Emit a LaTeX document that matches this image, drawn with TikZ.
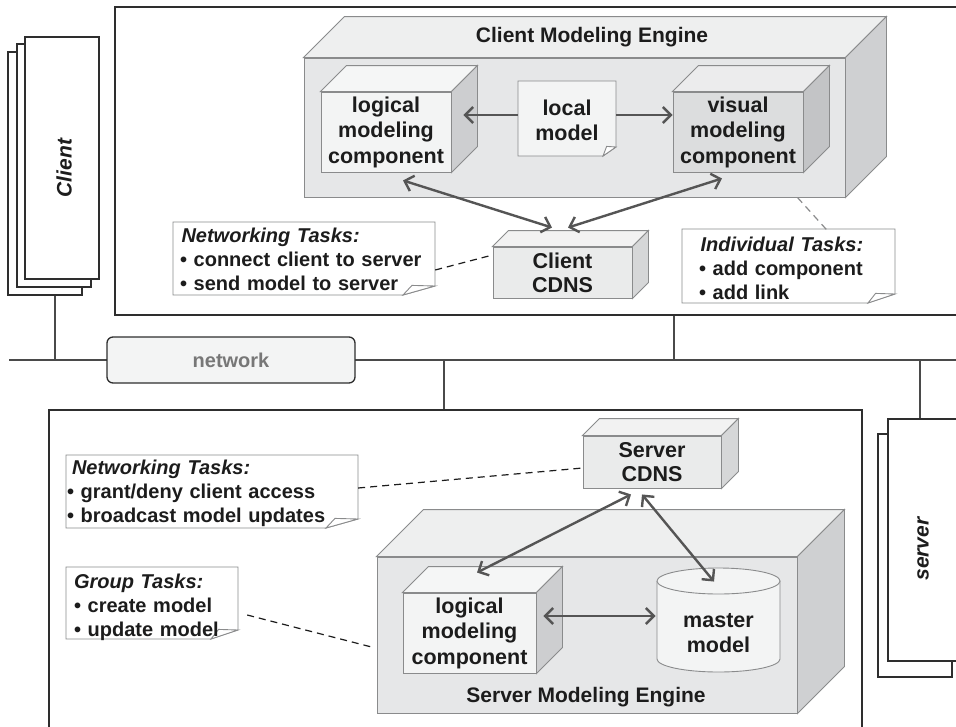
\documentclass[tikz,border=0pt]{standalone}
\usepackage{fontspec}
\setmainfont{Liberation Sans}
\usetikzlibrary{arrows.meta,calc}

\definecolor{edge}{HTML}{8A8B8C}
\definecolor{ink}{HTML}{1C1C1C}
\definecolor{arrowc}{HTML}{555555}
\definecolor{framec}{HTML}{2E2E2E}
\definecolor{wirec}{HTML}{4A4A4A}
\definecolor{engfront}{HTML}{E6E7E8}
\definecolor{engtop}{HTML}{EEEFEF}
\definecolor{engside}{HTML}{CFD0D2}
\definecolor{compfront}{HTML}{F3F4F4}
\definecolor{comptop}{HTML}{F5F6F6}
\definecolor{compside}{HTML}{CDCED0}
\definecolor{visfront}{HTML}{DCDDDE}
\definecolor{vistop}{HTML}{ECECED}
\definecolor{visside}{HTML}{C3C4C6}
\definecolor{cdnsfront}{HTML}{EAEBEB}
\definecolor{cdnstop}{HTML}{F2F2F2}
\definecolor{cdnsside}{HTML}{D6D7D8}
\definecolor{netfill}{HTML}{F3F4F4}
\definecolor{nettext}{HTML}{777777}

% top and side faces of a box whose front face is node #1, depth #2
\newcommand\cubefaces[4]{%
  \filldraw[face, fill=#3] (#1.north west) -- ++(#2,-#2)
    -- ([shift={(#2,-#2)}]#1.north east) -- (#1.north east) -- cycle;
  \filldraw[face, fill=#4] (#1.north east) -- ++(#2,-#2)
    -- ([shift={(#2,-#2)}]#1.south east) -- (#1.south east) -- cycle;}

% sheet of paper with a curled lower right corner: x1,y1,x2,y2,curl w,curl h,fill
\newcommand\notesheet[7]{%
  \filldraw[face, fill=#7] (#1,#2) -- (#3,#2) -- (#3,{#4-#6}) -- ({#3-#5},#4)
    -- (#1,#4) -- cycle;
  \filldraw[face, fill=white] (#3,{#4-#6}) -- ({#3-0.72*#5},{#4-#6-0.6}) -- ({#3-#5},#4) -- cycle;}

\tikzset{
  face/.style={draw=edge, line width=0.9pt},
  frontface/.style={face, inner sep=0pt, align=center, text=ink,
    font=\fontsize{21.5}{25.5}\selectfont\bfseries},
  notetext/.style={inner sep=0pt, align=left, text=ink,
    font=\fontsize{20}{24}\selectfont\bfseries},
  titletext/.style={inner sep=0pt, text=ink, font=\fontsize{21}{25}\selectfont\bfseries},
  tip/.tip={Straight Barb[length=8pt,width=16pt]},
  arr/.style={draw=arrowc, line width=2.4pt, -tip},
  biarr/.style={draw=arrowc, line width=2.4pt, tip-tip},
  tasklink/.style={draw=ink, line width=1.2pt, dash pattern=on 7pt off 5pt},
  softlink/.style={draw=edge, line width=1.2pt, dash pattern=on 7pt off 5pt},
  outerframe/.style={draw=framec, line width=1.3pt, fill=white, inner sep=0pt},
  wire/.style={draw=wirec, line width=1.5pt},
  netline/.style={draw=wirec, line width=2.2pt},
}

\begin{document}
\begin{tikzpicture}[x=1pt,y=-1pt]
\useasboundingbox (0,0) rectangle (956,726);
\clip (0,0) rectangle (956,726);

% ---------- network backbone ----------
\coordinate (netL) at (9,360);
\coordinate (netR) at (965,360);
\draw[netline] (netL) -- (netR);

% ---------- client machines ----------
\node[outerframe, minimum width=74pt, minimum height=243pt] (cl3) at (45,173.5) {};
\node[outerframe, minimum width=74pt, minimum height=243pt] (cl2) at (54,165.5) {};
\node[outerframe, minimum width=74pt, minimum height=242pt] (cl1) at (62,158) {};
\node[rotate=90, inner sep=0pt, text=ink,
  font=\fontsize{21}{25}\selectfont\bfseries\itshape] (clientlbl) at (64,168) {Client};
\draw[wire] ([xshift=10pt]cl3.south) -- ([xshift=10pt]cl3.south |- netL);

% ---------- client frame ----------
\node[outerframe, minimum width=855pt, minimum height=308pt] (cbox) at (542.5,161) {};
\draw[wire] ([xshift=131.5pt]cbox.south) -- ([xshift=131.5pt]cbox.south |- netL);

% client modeling engine
\node[frontface, fill=engfront, minimum width=541pt, minimum height=139pt] (cme) at (574.5,127.5) {};
\cubefaces{cme}{41}{engtop}{engside}
\node[titletext] (cmeT) at (592,37) {Client Modeling Engine};

\node[frontface, fill=compfront, minimum width=130pt, minimum height=80pt] (lcc) at (386,132)
  {logical\\modeling\\component};
\cubefaces{lcc}{26}{comptop}{compside}

\node[frontface, fill=visfront, minimum width=130pt, minimum height=80pt] (vcc) at (738,132)
  {visual\\modeling\\component};
\cubefaces{vcc}{26}{vistop}{visside}

\notesheet{518}{81}{616}{156}{13}{9}{compfront}
\node[frontface, draw=none, minimum width=98pt, minimum height=75pt] (lm) at (567,120.5) {local\\model};

\node[frontface, fill=cdnsfront, minimum width=139pt, minimum height=51pt,
  font=\fontsize{21.5}{24}\selectfont\bfseries] (ccdns) at (562.5,272.5) {Client\\CDNS};
\cubefaces{ccdns}{16}{cdnstop}{cdnsside}

\draw[arr] ([yshift=5.5pt]lm.west) -- ([xshift=12pt,yshift=17pt]lcc.east);
\draw[arr] ([yshift=5.5pt]lm.east) -- ([yshift=17pt]vcc.west);
\draw[biarr] ([xshift=17pt,yshift=-8pt]lcc.south) -- ([xshift=-10.5pt,yshift=19pt]ccdns.north);
\draw[biarr] ([xshift=-16pt,yshift=-6pt]vcc.south) -- ([xshift=5.5pt,yshift=19pt]ccdns.north);

% client task notes
\notesheet{173}{222}{435}{295}{32}{9}{white}
\node[notetext, text width=248pt, minimum height=73pt] (cnote) at (304,259)
  {\hspace*{1.5pt}\textit{Networking Tasks:}\\\textbullet\ connect client to server\\\textbullet\ send model to server};
\draw[tasklink] ([xshift=7pt,yshift=-11pt]cnote.east) -- ([yshift=17.5pt]ccdns.west);

\notesheet{682}{229}{895}{303}{27}{9}{white}
\node[notetext, text width=180pt, minimum height=74pt] (inote) at (789,268.5)
  {\hspace*{1.5pt}\textit{Individual Tasks:}\\\textbullet\ add component\\\textbullet\ add link};
\draw[softlink] ([xshift=-48pt]cme.south east) -- ([xshift=39pt]inote.north);

% ---------- network label ----------
\node[draw=framec, line width=1.3pt, fill=netfill, rounded corners=6pt,
  minimum width=248pt, minimum height=46pt, inner sep=0pt, text=nettext,
  font=\fontsize{20}{24}\selectfont\bfseries] (net) at (231,360) {network};

% ---------- server frame ----------
\node[outerframe, minimum width=813pt, minimum height=330pt] (sbox) at (455.5,575) {};
\draw[wire] ([xshift=-11.5pt]sbox.north) -- ([xshift=-11.5pt]sbox.north |- netL);

% server machines
\node[outerframe, minimum width=74pt, minimum height=243pt] (sv2) at (915,555.5) {};
\node[outerframe, minimum width=82pt, minimum height=242pt] (sv1) at (929,540) {};
\node[rotate=90, inner sep=0pt, text=ink,
  font=\fontsize{21}{25}\selectfont\bfseries\itshape] (serverlbl) at (923,549) {server};
\draw[wire] ([xshift=-9pt]sv1.north) -- ([xshift=-9pt]sv1.north |- netL);

% server CDNS
\node[frontface, fill=cdnsfront, minimum width=138pt, minimum height=52pt,
  font=\fontsize{21.5}{24}\selectfont\bfseries] (scdns) at (652,462) {Server\\CDNS};
\cubefaces{scdns}{17}{cdnstop}{cdnsside}

% server modeling engine
\node[frontface, fill=engfront, minimum width=420pt, minimum height=156pt] (sme) at (587,635) {};
\cubefaces{sme}{47}{engtop}{engside}
\node[titletext] (smeT) at (586,697) {Server Modeling Engine};

\node[frontface, fill=compfront, minimum width=133pt, minimum height=80pt] (slc) at (469.5,633)
  {logical\\modeling\\component};
\cubefaces{slc}{26}{comptop}{compside}

% master model cylinder
\fill[compfront] (657,581) -- (657,659)
  arc[start angle=180, end angle=360, x radius=61.5pt, y radius=13pt] -- (780,581) -- cycle;
\draw[face] (657,581) -- (657,659)
  arc[start angle=180, end angle=360, x radius=61.5pt, y radius=13pt] -- (780,581);
\filldraw[face, fill=compfront] (718.5,581) ellipse[x radius=61.5pt, y radius=13pt];
\node[frontface, draw=none, minimum width=123pt, minimum height=104pt] (mm) at (718.5,633)
  {master\\model};

\draw[biarr] ([xshift=7pt,yshift=17pt]slc.east) -- ([xshift=-1pt,yshift=17pt]mm.west);
\draw[biarr] ([xshift=7.5pt,yshift=20pt]slc.north) -- ([xshift=-21pt,yshift=-6pt]scdns.south);
\draw[biarr] ([xshift=-10pt,yshift=-6pt]scdns.south) -- ([xshift=-4.5pt,yshift=-1pt]mm.north);

% server task notes
\notesheet{66}{455}{358}{528}{32}{9}{white}
\node[notetext, text width=288pt, minimum height=73pt] (snote) at (211,493)
  {\hspace*{5pt}\textit{Networking Tasks:}\\\textbullet\ grant/deny client access\\\textbullet\ broadcast model updates};
\draw[tasklink] ([xshift=3pt,yshift=5pt]snote.east) -- ([yshift=-6pt]scdns.west);

\notesheet{66}{567}{238}{639}{27}{9}{white}
\node[notetext, text width=160pt, minimum height=72pt] (gnote) at (154,607)
  {\textit{Group Tasks:}\\\textbullet\ create model\\\textbullet\ update model};
\draw[tasklink] ([xshift=13pt,yshift=-8pt]gnote.east) -- ([xshift=-5pt,yshift=-12pt]sme.west);

\end{tikzpicture}
\end{document}
